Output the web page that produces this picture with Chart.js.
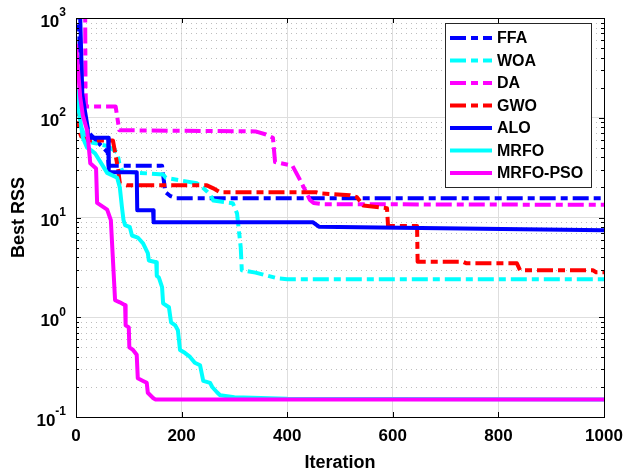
<!DOCTYPE html>
<html>
<head>
<meta charset="utf-8">
<script src="https://cdn.jsdelivr.net/npm/chart.js@4.4.0/dist/chart.umd.min.js"></script>
<style>
  html, body { margin: 0; padding: 0; background: #fff; }
  #wrap { width: 624px; height: 474px; }
</style>
</head>
<body>
<div id="wrap"><canvas id="rssChart"></canvas></div>
<script>
const seriesNames = ['FFA', 'WOA', 'DA', 'GWO', 'ALO', 'MRFO', 'MRFO-PSO'];
const seriesColors = ['#0000ff', '#00ffff', '#ff00ff', '#ff0000', '#0000ff', '#00ffff', '#ff00ff'];
const seriesDashed = [true, true, true, true, false, false, false];

const xTicks = [0, 200, 400, 600, 800, 1000];
const yDecades = [0.1, 1, 10, 100, 1000];

// best RSS per iteration
const ffaIter = [0, 5, 10, 15, 25, 60, 62, 163, 169, 178, 190, 1000];
const ffaRss = [3000, 1000, 200, 100, 70, 45, 33, 33, 18, 16.5, 15.6, 15.6];

const woaIter = [0, 5, 10, 20, 32, 60, 78, 82, 88, 121, 165, 170, 229, 240, 254, 260, 297, 305, 312, 314, 340, 381, 400, 1000];
const woaRss = [180, 120, 80, 60, 56, 52, 45, 35, 29, 28, 27, 25, 22, 20, 17, 14.8, 13.9, 11, 5, 2.96, 2.8, 2.46, 2.4, 2.4];

const daIter = [0, 17, 18, 19, 75, 82, 340, 360, 373, 377, 410, 424, 443, 450, 470, 1000];
const daRss = [3000, 3000, 200, 130, 130, 75, 73, 68, 63, 36, 33, 24, 15, 14, 13.6, 13.4];

const gwoIter = [0, 3, 10, 21, 70, 74, 80, 83, 97, 248, 260, 273, 455, 462, 519, 532, 544, 589, 591, 646, 647, 733, 740, 835, 841, 979, 985, 1000];
const gwoRss = [150, 80, 65, 59, 59, 45, 30, 22, 21, 21, 19.6, 17.9, 17.9, 17.5, 16.7, 16, 13.2, 12.4, 8.2, 8.2, 3.6, 3.6, 3.47, 3.47, 2.96, 2.96, 2.83, 2.83];

const aloIter = [0, 8, 12, 22, 23, 61, 62, 115, 116, 146, 147, 449, 460, 1000];
const aloRss = [3000, 1000, 170, 80, 63, 63, 28.5, 28.5, 11.8, 11.8, 8.95, 8.95, 8.1, 7.45];

const mrfoIter = [0, 5, 8, 13, 21, 27, 36, 59, 78, 83, 87, 90, 93, 102, 106, 117, 127, 136, 138, 152, 153, 157, 163, 165, 176, 180, 188, 193, 197, 206, 216, 225, 235, 241, 254, 258, 267, 273, 300, 400, 1000];
const mrfoRss = [200, 120, 95, 63, 50, 48, 44, 28, 25, 20, 12.7, 9.4, 8.4, 8.0, 6.6, 6.3, 5.5, 4.4, 3.7, 3.56, 2.6, 2.5, 2.0, 1.38, 1.26, 0.89, 0.83, 0.74, 0.47, 0.44, 0.40, 0.35, 0.33, 0.23, 0.22, 0.2, 0.177, 0.165, 0.158, 0.152, 0.15];

const psoIter = [0, 8, 13, 21, 23, 27, 38, 40, 59, 66, 74, 83, 93, 94, 100, 101, 108, 115, 117, 127, 134, 136, 146, 150, 1000];
const psoRss = [550, 160, 105, 75, 60, 35, 31, 14, 12, 9.4, 1.48, 1.41, 1.32, 0.83, 0.79, 0.50, 0.47, 0.42, 0.245, 0.23, 0.22, 0.175, 0.155, 0.15, 0.15];

const allIter = [ffaIter, woaIter, daIter, gwoIter, aloIter, mrfoIter, psoIter];
const allRss = [ffaRss, woaRss, daRss, gwoRss, aloRss, mrfoRss, psoRss];

const dashDot = [16, 5, 7, 5];
const font = 'Liberation Sans, Arial, Helvetica, sans-serif';

const datasets = seriesNames.map((name, i) => ({
  label: name,
  data: allIter[i].map((x, k) => ({ x: x, y: allRss[i][k] })),
  borderColor: seriesColors[i],
  backgroundColor: seriesColors[i],
  borderWidth: 4,
  borderDash: seriesDashed[i] ? dashDot : [],
  borderCapStyle: 'butt',
  borderJoinStyle: 'round',
  pointRadius: 0,
  tension: 0,
  fill: false,
  order: seriesNames.length - i   // later series on top, like the original
}));

// dotted minor grid, black box, inward ticks, y labels and the legend
const frame = {
  id: 'frame',
  beforeDatasetsDraw(chart) {
    const { ctx, chartArea: a, scales: { y } } = chart;
    ctx.save();
    ctx.strokeStyle = '#bdbdbd';
    ctx.lineWidth = 1;
    ctx.setLineDash([1, 4]);
    yDecades.slice(0, -1).forEach(d => {
      for (let m = 2; m <= 9; m++) {
        const py = Math.round(y.getPixelForValue(d * m)) + 0.5;
        ctx.beginPath();
        ctx.moveTo(a.left, py);
        ctx.lineTo(a.right, py);
        ctx.stroke();
      }
    });
    ctx.restore();
  },
  afterDatasetsDraw(chart) {
    const { ctx, chartArea: a, scales: { x, y } } = chart;
    ctx.save();
    ctx.strokeStyle = '#000';
    ctx.lineWidth = 1;
    ctx.beginPath();
    xTicks.forEach(v => {
      const px = Math.round(x.getPixelForValue(v)) + 0.5;
      ctx.moveTo(px, a.bottom); ctx.lineTo(px, a.bottom - 5);
      ctx.moveTo(px, a.top); ctx.lineTo(px, a.top + 5);
    });
    yDecades.forEach((d, j) => {
      for (let m = 1; m <= 9; m++) {
        if (j === yDecades.length - 1 && m > 1) break;
        const py = Math.round(y.getPixelForValue(d * m)) + 0.5;
        const l = m === 1 ? 5 : 3;
        ctx.moveTo(a.left, py); ctx.lineTo(a.left + l, py);
        ctx.moveTo(a.right, py); ctx.lineTo(a.right - l, py);
      }
    });
    ctx.stroke();
    ctx.strokeRect(Math.round(a.left) + 0.5, Math.round(a.top) + 0.5,
      Math.round(a.right - a.left), Math.round(a.bottom - a.top));
    ctx.restore();
  },
  afterDraw(chart) {
    const { ctx, chartArea: a, scales: { y } } = chart;
    ctx.save();
    ctx.fillStyle = '#000';
    ctx.textBaseline = 'middle';
    yDecades.forEach(d => {
      const py = y.getPixelForValue(d);
      const ex = String(Math.round(Math.log10(d)));
      ctx.font = 'bold 12px ' + font;
      const ew = ctx.measureText(ex).width;
      ctx.textAlign = 'left';
      ctx.fillText(ex, a.left - 10 - ew, py - 5);
      ctx.font = 'bold 17px ' + font;
      ctx.textAlign = 'right';
      ctx.fillText('10', a.left - 10 - ew, py + 4);
    });

    // legend box
    const bx = 445.5, by = 23.5, bw = 146, bh = 164;
    ctx.fillStyle = '#fff';
    ctx.fillRect(bx, by, bw, bh);
    ctx.strokeStyle = '#262626';
    ctx.lineWidth = 1;
    ctx.setLineDash([]);
    ctx.strokeRect(bx, by, bw, bh);
    chart.data.datasets.forEach((ds, i) => {
      const ly = 38 + i * 22.5;
      ctx.strokeStyle = ds.borderColor;
      ctx.lineWidth = 4;
      ctx.lineCap = 'butt';
      ctx.setLineDash(ds.borderDash);
      ctx.beginPath();
      ctx.moveTo(450, ly);
      ctx.lineTo(492, ly);
      ctx.stroke();
      ctx.setLineDash([]);
      ctx.fillStyle = '#000';
      ctx.font = 'bold 16px ' + font;
      ctx.textAlign = 'left';
      ctx.fillText(ds.label, 497, ly + 1);
    });
    ctx.restore();
  }
};

new Chart(document.getElementById('rssChart'), {
  type: 'line',
  data: { datasets: datasets },
  options: {
    responsive: true,
    maintainAspectRatio: false,
    animation: false,
    events: [],
    layout: { padding: { left: 0, right: 20, top: 18, bottom: 0 } },
    plugins: { legend: { display: false }, tooltip: { enabled: false } },
    scales: {
      x: {
        type: 'linear',
        min: 0,
        max: 1000,
        afterBuildTicks: s => { s.ticks = xTicks.map(v => ({ value: v })); },
        afterFit: s => { s.height = 57; s.paddingLeft = 0; s.paddingRight = 0; },
        ticks: { color: '#000', font: { family: font, size: 17, weight: 'bold' }, padding: 9, maxRotation: 0,
          callback: v => String(v) },
        grid: { color: '#dedede', drawTicks: false },
        border: { display: false },
        title: { display: true, text: 'Iteration', color: '#000', font: { family: font, size: 18, weight: 'bold' }, padding: { top: 0, bottom: 0 } }
      },
      y: {
        type: 'logarithmic',
        min: 0.1,
        max: 1000,
        afterBuildTicks: s => { s.ticks = yDecades.map(v => ({ value: v })); },
        afterFit: s => { s.width = 76; },
        ticks: { display: false },
        grid: { color: '#dedede', drawTicks: false },
        border: { display: false },
        title: { display: true, text: 'Best RSS', color: '#000', font: { family: font, size: 18, weight: 'bold' }, padding: { top: 8, bottom: 0 } }
      }
    }
  },
  plugins: [frame]
});
</script>
</body>
</html>
